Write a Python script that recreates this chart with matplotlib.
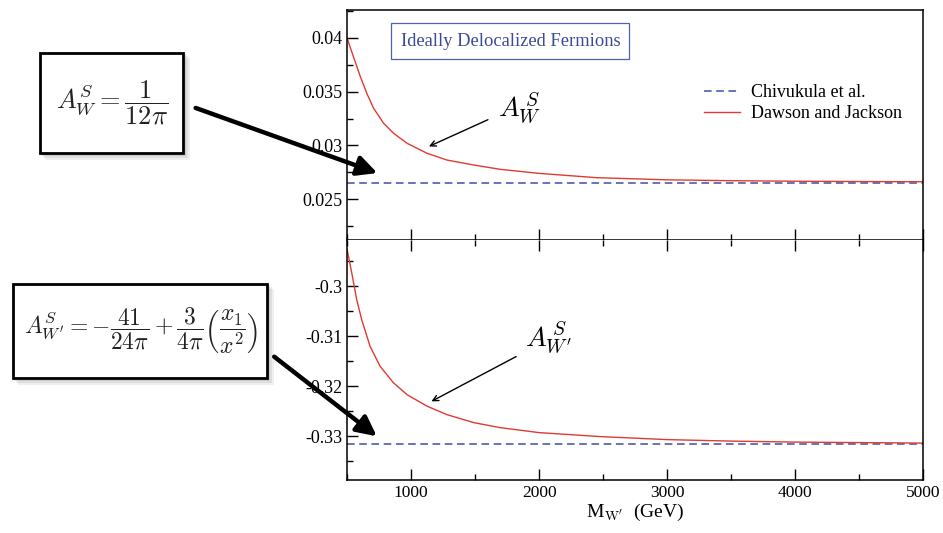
import matplotlib
matplotlib.use('Agg')
import matplotlib.pyplot as plt
from matplotlib.patches import Rectangle, FancyArrowPatch
from matplotlib.ticker import MultipleLocator

# values
mass_w = [500, 550, 604, 656, 708, 786, 864, 969, 1125, 1281, 1490, 1695, 2000, 2450, 3000, 3500, 4000, 4500, 5000]
a_w_dj = [0.0400, 0.03826, 0.0364, 0.0348, 0.03345, 0.03206, 0.03113, 0.0302, 0.02927, 0.02864, 0.02818,
          0.02778, 0.0274, 0.0270, 0.0268, 0.02672, 0.02667, 0.02664, 0.02662]
mass_wp = [500, 537, 576, 615, 680, 758, 862, 969, 1125, 1281, 1490, 1695, 2000, 2480, 3000, 3500, 4000, 4500, 5000]
a_wp_dj = [-0.2925, -0.2973, -0.3027, -0.3067, -0.3120, -0.3160, -0.3193, -0.3217, -0.3240, -0.3257, -0.3273,
           -0.3283, -0.3293, -0.3301, -0.3307, -0.3310, -0.3312, -0.3313, -0.3314]
a_w_chiv = 0.02653
a_wp_chiv = -0.3316

red = '#e03a32'
blue = '#3d4fa6'

plt.rcParams['font.family'] = 'Liberation Serif'
plt.rcParams['mathtext.fontset'] = 'cm'
plt.rcParams['axes.unicode_minus'] = False

fig = plt.figure(figsize=(9.43, 5.33), dpi=100)
ax1 = fig.add_axes([0.368, 0.5497, 0.611, 0.4315])
ax2 = fig.add_axes([0.368, 0.0994, 0.611, 0.4503])

ax1.plot([500, 5000], [a_w_chiv, a_w_chiv], '--', color=blue, lw=1.1, dashes=(5, 3), label='Chivukula et al.')
ax1.plot(mass_w, a_w_dj, color=red, lw=1.0, label='Dawson and Jackson')
ax2.plot([500, 5000], [a_wp_chiv, a_wp_chiv], '--', color=blue, lw=1.1, dashes=(5, 3))
ax2.plot(mass_wp, a_wp_dj, color=red, lw=1.0)

ax1.set_ylim(0.0212, 0.0426)
ax2.set_ylim(-0.3388, -0.2907)
for ax in (ax1, ax2):
    ax.set_xlim(500, 5000)
    ax.xaxis.set_major_locator(MultipleLocator(1000))
    ax.xaxis.set_minor_locator(MultipleLocator(500))
    for s in ax.spines.values():
        s.set_linewidth(1.1)
    ax.tick_params(which='both', direction='in', right=False, labelsize=13, width=1.0)
    ax.tick_params(which='major', length=8)
    ax.tick_params(which='minor', length=4)

ax1.yaxis.set_minor_locator(MultipleLocator(0.0025))
ax1.set_yticks([0.025, 0.03, 0.035, 0.04])
ax1.set_yticklabels(['0.025', '0.03', '0.035', '0.04'])
ax1.tick_params(labelbottom=False)
ax1.tick_params(axis='x', which='both', top=False)

ax2.yaxis.set_minor_locator(MultipleLocator(0.005))
ax2.set_yticks([-0.33, -0.32, -0.31, -0.3])
ax2.set_yticklabels(['-0.33', '-0.32', '-0.31', '-0.3'])
ax2.set_xticks([1000, 2000, 3000, 4000, 5000])
ax2.tick_params(axis='x', which='both', top=True, labelsize=12.5)
ax2.spines['top'].set_visible(False)
ax2.set_xlabel("M$_{\\mathrm{W'}}$  (GeV)", fontsize=14, labelpad=1)

ax1.legend(loc='upper left', bbox_to_anchor=(0.607, 0.71), frameon=False, fontsize=13,
           handlelength=2.0, handletextpad=0.6, labelspacing=0.25, borderaxespad=0)

ax1.text(0.093, 0.865, 'Ideally Delocalized Fermions', transform=ax1.transAxes, color='#3a4a96', fontsize=13.3,
         va='center', ha='left',
         bbox=dict(boxstyle='square,pad=0.5', fc='white', ec='#5060b0', lw=0.9))

ax1.annotate('', xy=(1120, 0.0298), xytext=(1620, 0.0325),
             arrowprops=dict(arrowstyle='->', color='black', lw=1.0))
ax1.text(1680, 0.0334, '$A_W^{\\,S}$', fontsize=20, va='center', ha='left')
ax2.annotate('', xy=(1140, -0.3233), xytext=(1840, -0.3138),
             arrowprops=dict(arrowstyle='->', color='black', lw=1.0))
ax2.text(1890, -0.3103, "$A_{W'}^{\\,S}$", fontsize=20, va='center', ha='left')

# overlay in pixel coordinates for the formula boxes and thick arrows
ov = fig.add_axes([0, 0, 1, 1], zorder=10)
ov.set_xlim(0, 943)
ov.set_ylim(533, 0)
ov.axis('off')
ov.patch.set_alpha(0)

boxes = [(40, 53, 143, 100), (13, 284, 254, 94)]
for (bx, by, bw, bh) in boxes:
    for k, a in zip([7, 5, 3], [0.12, 0.15, 0.2]):
        ov.add_patch(Rectangle((bx + k - 2, by + k - 2), bw + 2, bh + 2, fc='gray', ec='none', alpha=a))
    ov.add_patch(Rectangle((bx, by), bw, bh, fc='white', ec='black', lw=2.0))

ov.text(112, 103, '$A_W^S = \\dfrac{1}{12\\pi}$', fontsize=19, ha='center', va='center', color='#222222')
ov.text(141, 331, "$A_{W'}^S = -\\dfrac{41}{24\\pi} + \\dfrac{3}{4\\pi}\\left(\\dfrac{x_1}{x^2}\\right)$",
        fontsize=17, ha='center', va='center', color='#222222')

ov.add_patch(FancyArrowPatch((193, 107), (380, 174), arrowstyle='-|>,head_length=10,head_width=5',
                             color='black', lw=3.2, mutation_scale=1.2))
ov.add_patch(FancyArrowPatch((272, 355), (379, 438), arrowstyle='-|>,head_length=10,head_width=5',
                             color='black', lw=3.2, mutation_scale=1.2))

fig.savefig('out.png', dpi=100, facecolor='white')
